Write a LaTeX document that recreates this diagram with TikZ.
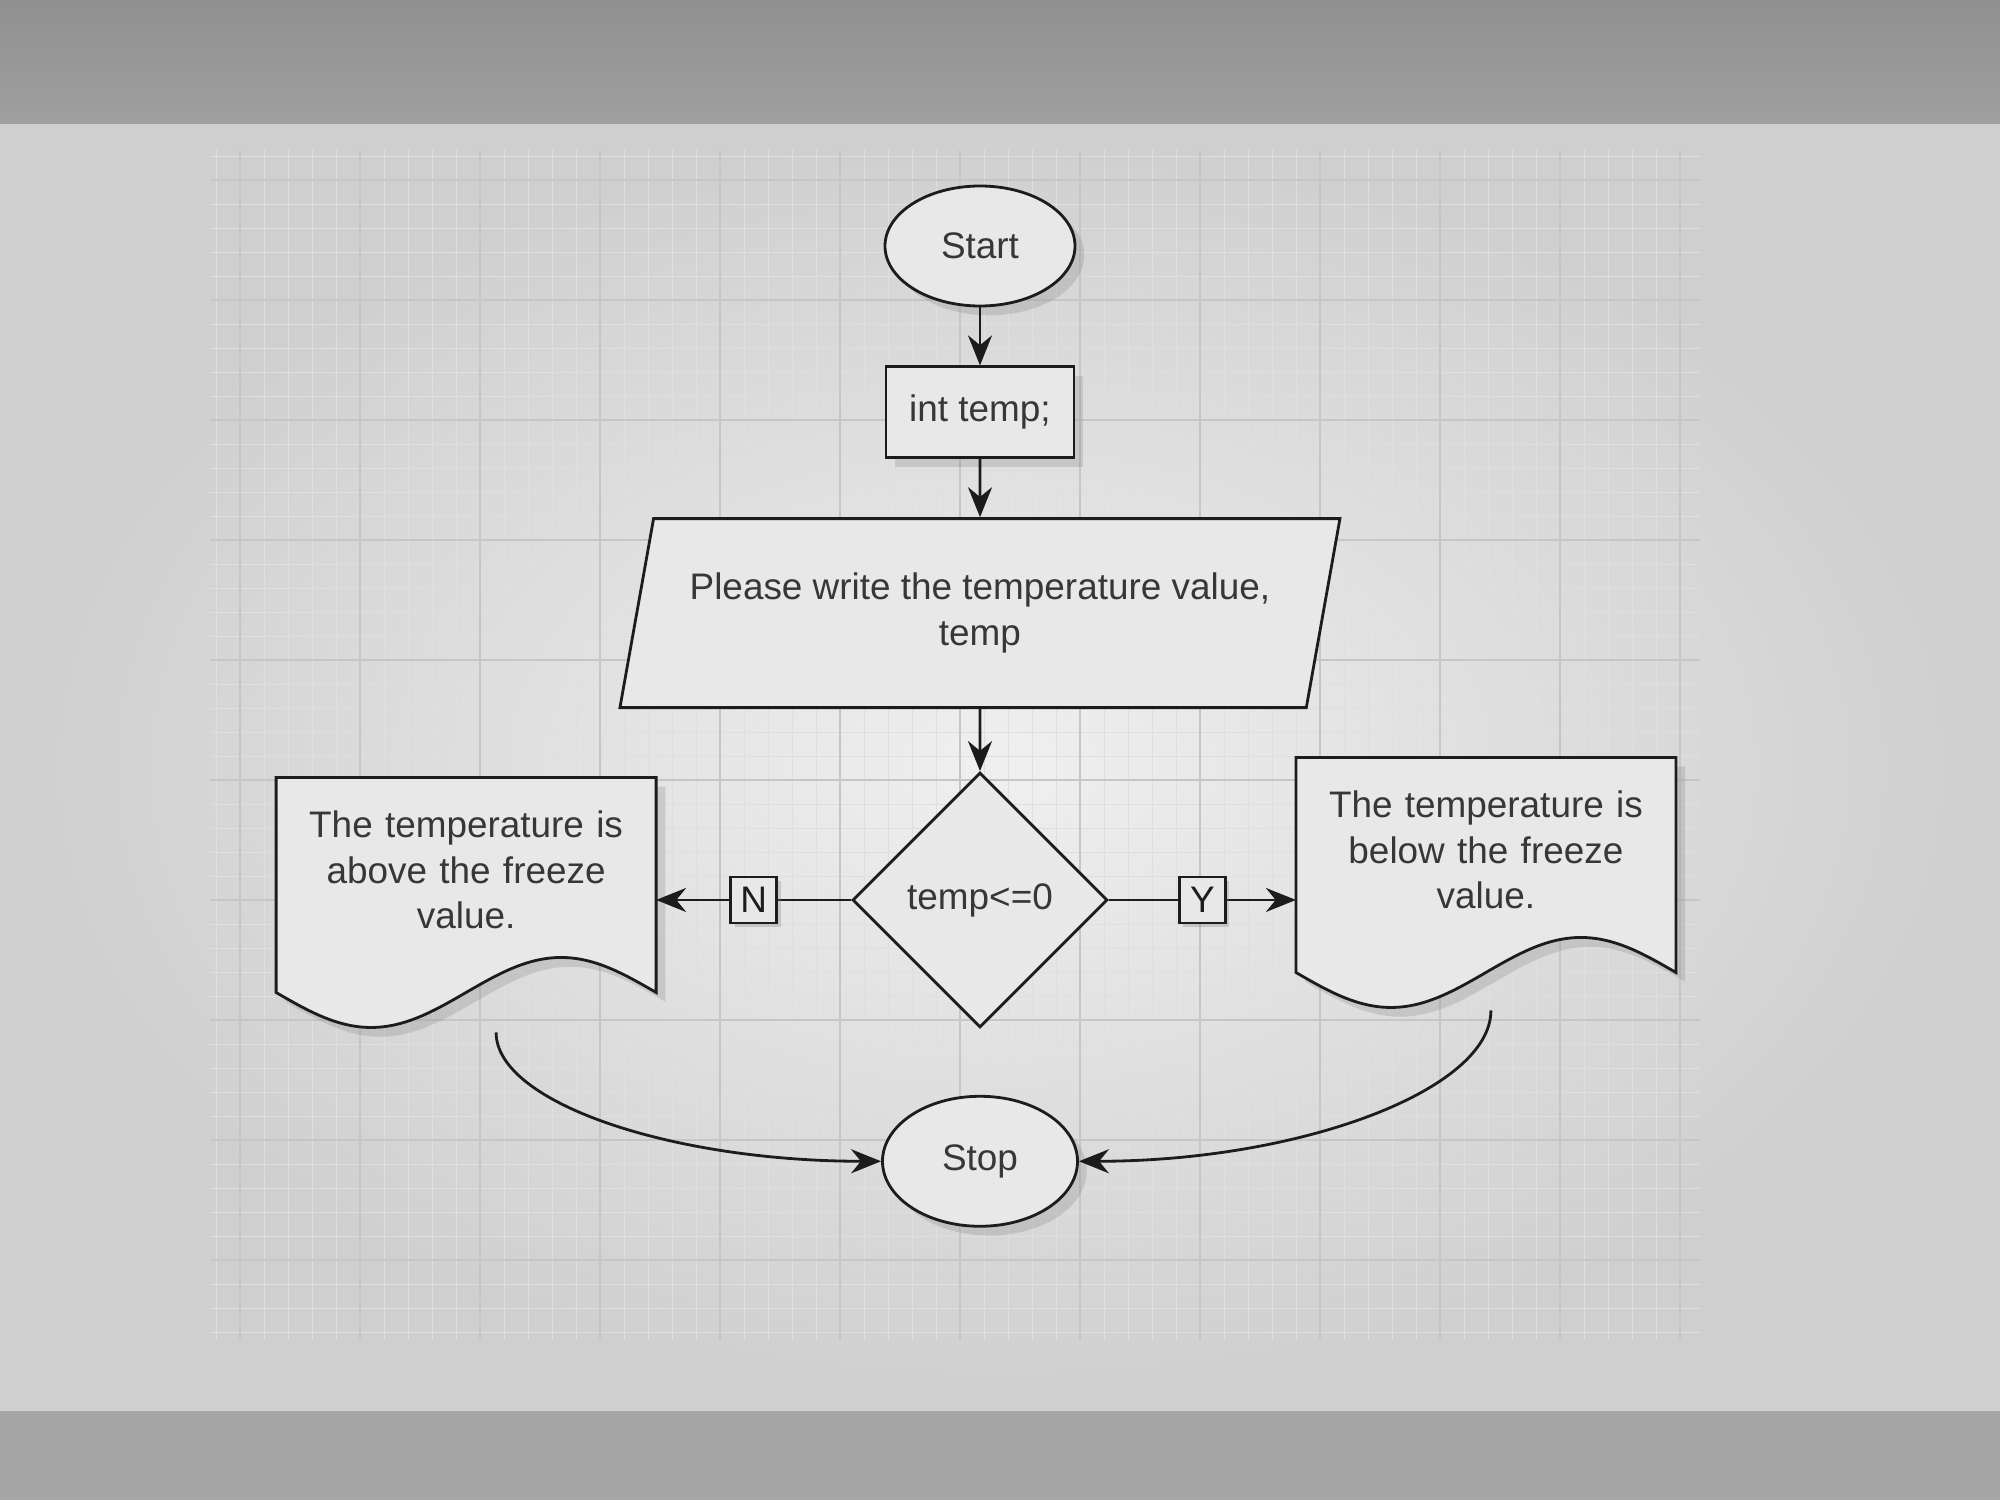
\documentclass[tikz,border=0pt]{standalone}
\usepackage{fontspec}
\setmainfont{Liberation Sans}
\usetikzlibrary{shapes,arrows.meta,positioning,shadows}
\definecolor{shapefill}{RGB}{232,232,232}
\definecolor{ink}{RGB}{28,28,28}
\definecolor{txt}{RGB}{55,55,55}
\pgfdeclarelayer{back}
\pgfdeclarelayer{outline}
\pgfsetlayers{back,outline,main}
\tikzset{terminal/.style={ellipse, draw=ink, thick, fill=shapefill, text=txt, minimum width=1.9cm,
 minimum height=1.2cm, drop shadow={opacity=0.25}}}
\tikzset{process/.style={rectangle, draw=ink, thick, fill=shapefill, text=txt, minimum width=1.88cm,
 minimum height=0.91cm, drop shadow={opacity=0.25}}}
\tikzset{inout/.style={trapezium, trapezium left angle=72, trapezium right angle=108, draw=ink, thick,
 fill=shapefill, text=txt, align=center, minimum width=7.2cm, minimum height=1.89cm, trapezium stretches body}}
\tikzset{decision/.style={diamond, draw=ink, thick, fill=shapefill, text=txt, minimum width=2.55cm,
 minimum height=2.55cm, inner sep=0pt}}
\tikzset{message/.style={rectangle, text=txt, text width=3.4cm, inner xsep=0.2cm, outer sep=0pt,
 minimum height=1.85cm, align=center}}
\tikzset{answer/.style={rectangle, draw=ink, fill=shapefill, text=ink, minimum size=0.46cm, inner sep=1pt,
 drop shadow={opacity=0.3, shadow xshift=0.4mm, shadow yshift=-0.4mm}}}
\tikzset{line/.style={draw=ink, thick, -{Stealth[length=3mm,width=2.4mm]}}}

\begin{document}
\begin{tikzpicture}[node distance=0.6cm, font=\fontsize{10.5}{13}\selectfont]
    \useasboundingbox (0,0) rectangle (20,15);
    \begin{pgfonlayer}{back}
        \fill[gray!70!white] (0,0) rectangle (20,15);
        \shade[top color=gray!55!black!60, bottom color=gray!75!white] (0,13.75) rectangle (20,15);
        \shade[inner color=gray!12, outer color=gray!38] (0,0.9) rectangle (20,13.75);
        \draw[gray!25, very thin, step=0.24cm] (2.1,1.6) grid (17.0,13.5);
        \draw[gray!45, thin, step=1.2cm] (2.1,1.6) grid (17.0,13.5);
    \end{pgfonlayer}

        \node[terminal] at (9.8,12.54) (start){Start};
        \node[process, below=0.58cm of start] (decl){int temp;};
        \node[inout, below=0.58cm of decl] (input){Please write the temperature value,\\ temp};
        \node[decision, below=0.62cm of input] (cond){temp<=0};
        \node[terminal, minimum width=1.95cm, minimum height=1.3cm, below=0.66cm of cond] (stop){Stop};
        \node[message, left=1.95cm of cond, yshift=0.3cm] (abovedoc){The temperature is\\ above the freeze\\ value.};
        \node[message, right=1.87cm of cond, yshift=0.5cm] (belowdoc){The temperature is\\ below the freeze\\ value.};

    % wavy outline of the two messages
    \begin{pgfonlayer}{outline}
        \foreach \d in {abovedoc,belowdoc}
            \draw[ink, thick, fill=shapefill, drop shadow={opacity=0.25}] (\d.north west) -- (\d.north east) -- ([yshift=-3mm]\d.south east)
                sin ++(-0.95,0.35) cos ++(-0.95,-0.35) sin ++(-0.95,-0.35) cos ++(-0.95,0.35) -- cycle;
    \end{pgfonlayer}

        \coordinate (abovetail) at ([xshift=0.3cm,yshift=-0.7cm]abovedoc.south);
        \coordinate (belowtail) at ([xshift=0.05cm,yshift=-0.68cm]belowdoc.south);

        \path[line] (start) -- (decl);
        \path[line] (decl) -- (input);
        \path[line] (input) -- (cond);
        \path[line] (cond.west) -- node[answer]{N} (cond.west -| abovedoc.east);
        \path[line] (cond.east) -- node[answer]{Y} (cond.east -| belowdoc.west);
        \path[line] (abovetail) to[out=-90, in=180, out distance=0.7cm, in distance=2.1cm] (stop.west);
        \path[line] (belowtail) to[out=-90, in=0, out distance=0.8cm, in distance=2.2cm] (stop.east);
\end{tikzpicture}
\end{document}
